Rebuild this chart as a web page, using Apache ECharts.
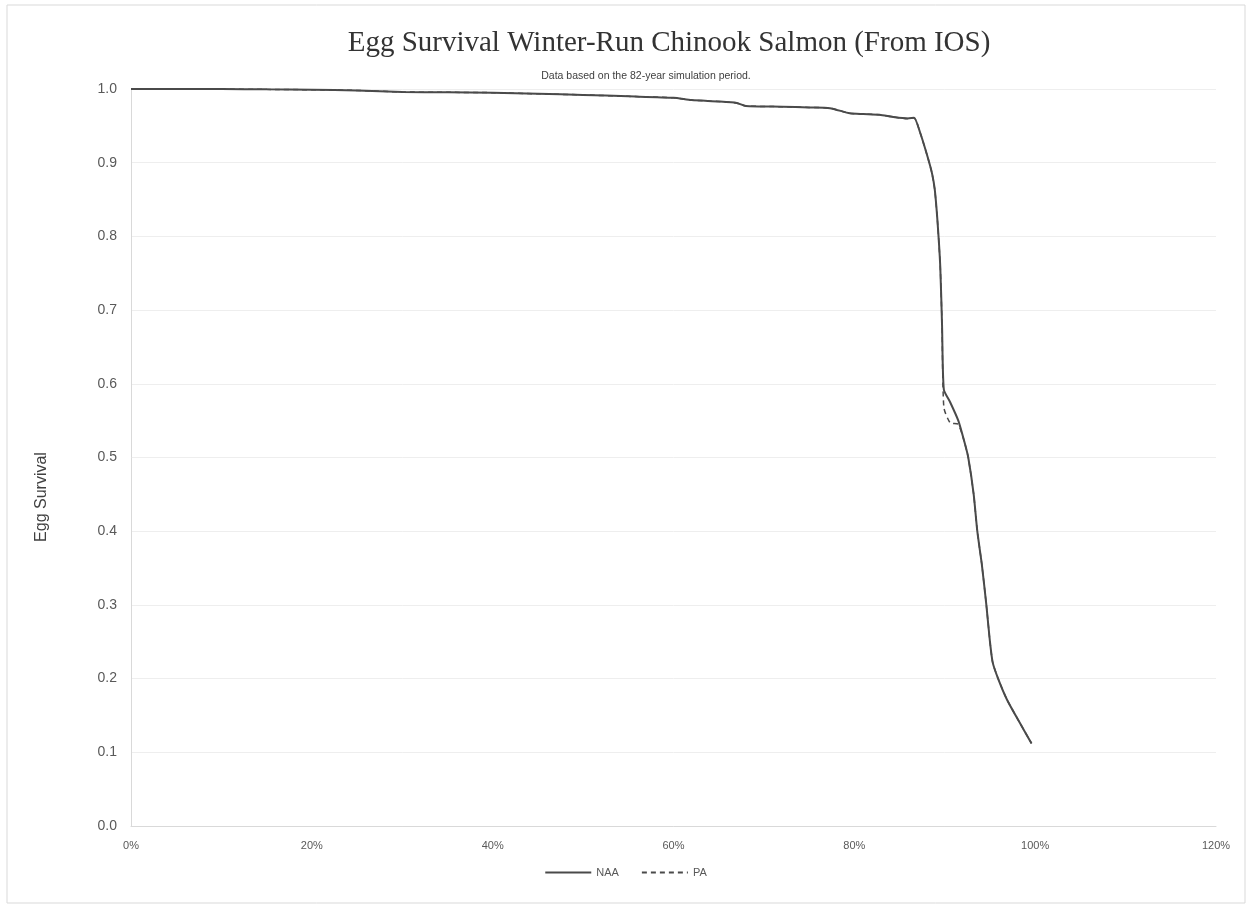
<!DOCTYPE html>
<html>
<head>
<meta charset="utf-8">
<script src="https://cdn.jsdelivr.net/npm/echarts@6/dist/echarts.min.js"></script>
<style>html,body{margin:0;padding:0;background:#fff;}#c{width:1251px;height:909px;}</style>
</head>
<body>
<div id="c"></div>
<script>
const titleText = 'Egg Survival Winter-Run Chinook Salmon (From IOS)';
const subtitleText = 'Data based on the 82-year simulation period.';
const yAxisName = 'Egg Survival';
const seriesNames = ['NAA', 'PA'];
// Exceedance probability (%)
const exceed = [0, 5, 10, 15, 20, 25, 30, 35, 40, 45, 50, 55, 60, 62, 65, 67, 68, 72, 75, 77.3, 79.5, 81, 82.8, 84.3, 85.9, 86.6, 87.3, 88.1, 88.6, 88.9, 89.2, 89.5, 89.7, 89.9, 90.6, 91.5, 92.2, 92.6, 93.2, 93.6, 94.1, 94.6, 95.0, 95.3, 95.9, 96.9, 98.3, 99.6];
const naa = [1.0, 1.0, 1.0, 0.9995, 0.999, 0.998, 0.996, 0.9955, 0.995, 0.9935, 0.992, 0.990, 0.988, 0.985, 0.983, 0.981, 0.977, 0.976, 0.975, 0.974, 0.967, 0.966, 0.965, 0.962, 0.960, 0.961, 0.940, 0.908, 0.885, 0.863, 0.820, 0.760, 0.680, 0.592, 0.575, 0.550, 0.520, 0.500, 0.450, 0.400, 0.355, 0.300, 0.250, 0.222, 0.200, 0.171, 0.140, 0.112];
const pa  = [1.0, 1.0, 1.0, 0.9995, 0.999, 0.998, 0.996, 0.9955, 0.995, 0.9935, 0.992, 0.990, 0.988, 0.985, 0.983, 0.981, 0.977, 0.976, 0.975, 0.974, 0.967, 0.966, 0.965, 0.962, 0.960, 0.961, 0.940, 0.908, 0.885, 0.863, 0.820, 0.760, 0.680, 0.568, 0.547, 0.545, 0.520, 0.500, 0.450, 0.400, 0.355, 0.300, 0.250, 0.222, 0.200, 0.171, 0.140, 0.112];

const chart = echarts.init(document.getElementById('c'));
const lineColor = '#4a4a4a';
chart.setOption({
  animation: false,
  backgroundColor: '#ffffff',
  graphic: [{
    type: 'rect', shape: {x: 7, y: 5, width: 1238, height: 898},
    style: {fill: 'none', stroke: '#d9d9d9', lineWidth: 1}, silent: true
  }, {
    type: 'text', x: 42, y: 497, rotation: Math.PI / 2,
    style: {text: yAxisName, fontFamily: 'Liberation Sans', fontSize: 16, fill: '#404040',
            textAlign: 'center', textVerticalAlign: 'middle'}, silent: true
  }],
  title: [{
    text: titleText, left: 664, top: 24, textAlign: 'center',
    textStyle: {fontFamily: 'Liberation Serif', fontSize: 29, fontWeight: 'normal', color: '#333333'}
  }, {
    text: subtitleText, left: 641, top: 66, textAlign: 'center',
    textStyle: {fontFamily: 'Liberation Sans', fontSize: 10.5, fontWeight: 'normal', color: '#404040'}
  }],
  legend: {
    data: seriesNames, left: 'center', top: 862, itemWidth: 46, itemHeight: 10, itemGap: 22,
    itemStyle: {opacity: 0},
    textStyle: {fontFamily: 'Liberation Sans', fontSize: 11, color: '#595959'}
  },
  grid: {left: 131, right: 35, top: 89, bottom: 83},
  xAxis: {
    type: 'value', min: 0, max: 120, interval: 20,
    axisLine: {show: true, lineStyle: {color: '#d9d9d9'}},
    axisTick: {show: false},
    splitLine: {show: false},
    axisLabel: {formatter: '{value}%', fontFamily: 'Liberation Sans', fontSize: 11, color: '#595959', margin: 14}
  },
  yAxis: {
    type: 'value', min: 0, max: 1, interval: 0.1,
    axisLine: {show: true, lineStyle: {color: '#d9d9d9'}},
    axisTick: {show: false},
    splitLine: {show: true, lineStyle: {color: '#eeeeee'}},
    axisLabel: {formatter: v => v.toFixed(1), fontFamily: 'Liberation Sans', fontSize: 14, color: '#595959', margin: 14}
  },
  series: [{
    name: seriesNames[0], type: 'line', showSymbol: false, symbol: 'none',
    smooth: 0.2,
    data: exceed.map((x, i) => [x, naa[i]]),
    lineStyle: {color: lineColor, width: 2, type: 'solid'},
    itemStyle: {color: lineColor}, z: 3
  }, {
    name: seriesNames[1], type: 'line', showSymbol: false, symbol: 'none',
    smooth: 0.2,
    data: exceed.map((x, i) => [x, pa[i]]),
    lineStyle: {color: lineColor, width: 1.5, type: [5, 4]},
    itemStyle: {color: lineColor}, z: 2
  }]
});
</script>
</body>
</html>
